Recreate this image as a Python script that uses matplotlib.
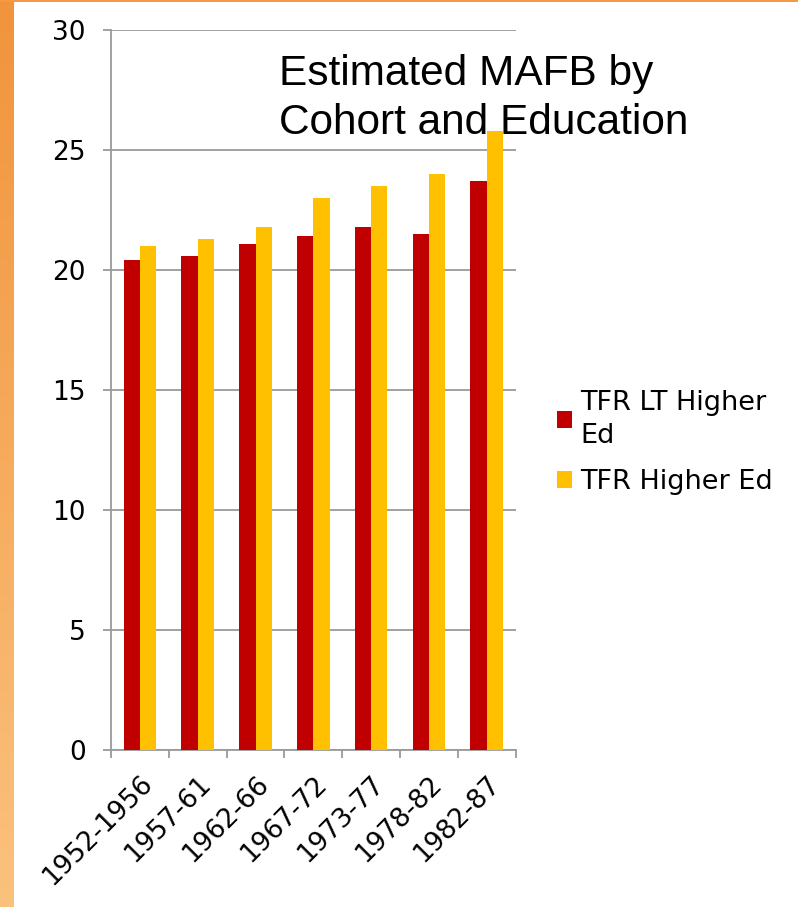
import numpy as np
import matplotlib
matplotlib.use("Agg")
import matplotlib.pyplot as plt
import matplotlib.transforms as mtransforms
from matplotlib.patches import Rectangle, Patch

# Cohorts and mean age at first birth by education group
cohorts = ["1952-1956", "1957-61", "1962-66", "1967-72", "1973-77", "1978-82", "1982-87"]
lt_higher_ed = [20.4, 20.6, 21.1, 21.4, 21.8, 21.5, 23.7]
higher_ed = [21.0, 21.3, 21.8, 23.0, 23.5, 24.0, 25.8]
series_labels = ["TFR LT Higher\nEd", "TFR Higher Ed"]
y_ticks = [0, 5, 10, 15, 20, 25, 30]

RED = "#C00000"
GOLD = "#FFC000"
GRID = "#9A9A9A"
FS = 19

W, H = 798, 907
fig = plt.figure(figsize=(W / 100, H / 100), dpi=100)
fig.patch.set_facecolor("white")

# Orange slide accents: gradient strip on the left, thin rule on top
strip = fig.add_axes([0, 0, 14 / W, 1])
grad = np.linspace(0, 1, 256).reshape(-1, 1)
top_c = np.array([0.945, 0.580, 0.235])
bot_c = np.array([0.984, 0.760, 0.490])
img = top_c[None, None, :] * (1 - grad[:, :, None]) + bot_c[None, None, :] * grad[:, :, None]
strip.imshow(img, aspect="auto", extent=[0, 1, 0, 1], origin="upper")
strip.set_axis_off()
fig.patches.append(Rectangle((0, 1 - 2 / H), 1, 2 / H, transform=fig.transFigure,
                             facecolor="#F39A43", edgecolor="none", zorder=5))

ax = fig.add_axes([111 / W, 1 - 750 / H, 404.6 / W, 720 / H])
x = np.arange(len(cohorts))
bw = 0.283
ax.bar(x - bw / 2, lt_higher_ed, width=bw, color=RED, zorder=3)
ax.bar(x + bw / 2, higher_ed, width=bw, color=GOLD, zorder=3)

ax.set_xlim(-0.5, len(cohorts) - 0.5)
ax.set_ylim(0, 30)
ax.set_yticks(y_ticks)
ax.set_yticklabels([str(t) for t in y_ticks])
ax.yaxis.grid(True, color=GRID, linewidth=1.3, zorder=0)
ax.set_axisbelow(True)

# category boundary ticks on the x axis, labels centred under each group
ax.set_xticks(np.arange(len(cohorts) + 1) - 0.5)
ax.set_xticklabels([])
ax.set_xticks(x, minor=True)
ax.set_xticklabels(cohorts, minor=True, rotation=45, ha="right", va="top",
                   rotation_mode="anchor", fontsize=FS, family="DejaVu Sans")
shift = mtransforms.ScaledTranslation(-4 / 100, 0, fig.dpi_scale_trans)
for lab in ax.get_xticklabels(minor=True):
    lab.set_transform(lab.get_transform() + shift)
ax.tick_params(axis="x", which="minor", length=0, pad=15)
ax.tick_params(axis="x", which="major", length=6, width=1.3, color=GRID, direction="out")
ax.tick_params(axis="y", length=6, width=1.3, color=GRID, pad=12, labelsize=FS)

for s in ["top", "right"]:
    ax.spines[s].set_visible(False)
for s in ["left", "bottom"]:
    ax.spines[s].set_color(GRID)
    ax.spines[s].set_linewidth(1.3)

fig.text(279 / W, 1 - 54 / H, "Estimated MAFB by\nCohort and Education",
         family="Liberation Sans", fontsize=30.5, ha="left", va="top",
         linespacing=1.28, color="black")

handles = [Patch(facecolor=RED, edgecolor="none"), Patch(facecolor=GOLD, edgecolor="none")]
leg = fig.legend(handles, series_labels, loc="upper left", bbox_to_anchor=(543 / W, 1 - 376 / H),
                 frameon=False, handlelength=0.58, handleheight=0.58,
                 handletextpad=0.3, labelspacing=0.75, borderpad=0,
                 prop={"family": "DejaVu Sans", "size": FS + 0.5})
for t in leg.get_texts():
    t.set_linespacing(1.35)

fig.savefig("out.png", dpi=100)
